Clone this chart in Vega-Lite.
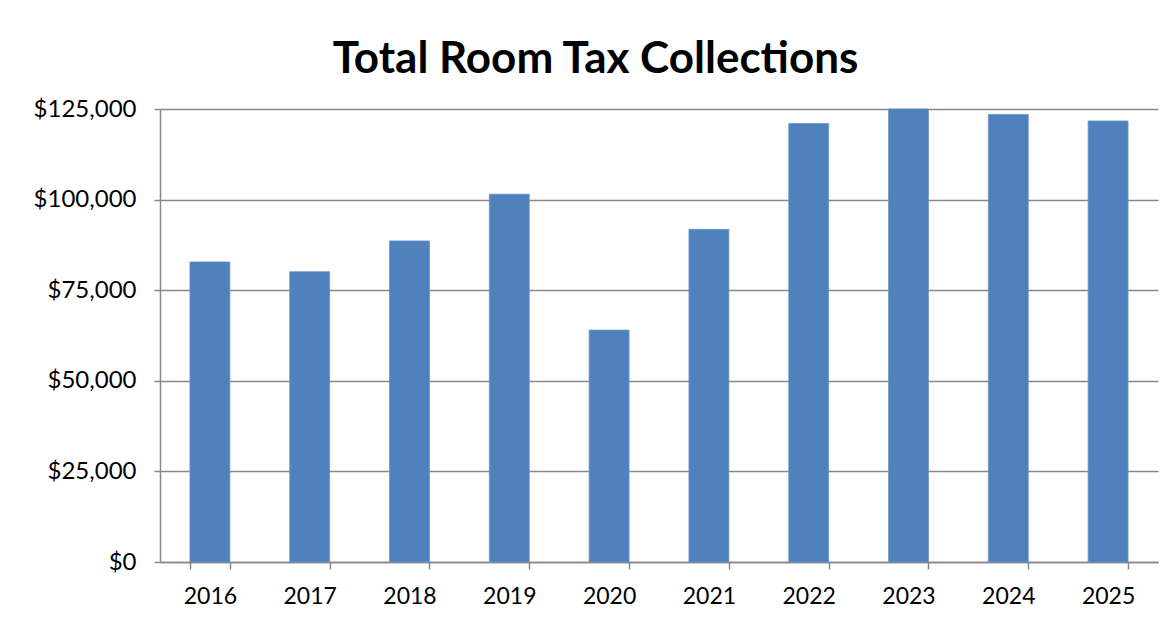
{
  "$schema": "https://vega.github.io/schema/vega-lite/v6.json",
  "autosize": "none",
  "width": 998,
  "height": 453,
  "padding": {"left": 160, "top": 109, "right": 18, "bottom": 68},
  "background": "white",
  "title": {
    "text": "Total Room Tax Collections",
    "font": "Lato",
    "fontSize": 44,
    "fontWeight": "bold",
    "color": "#000000",
    "anchor": "middle",
    "frame": "bounds",
    "offset": 15
  },
  "data": {
    "values": [
      {"year": "2016", "amount": 82800},
      {"year": "2017", "amount": 80100},
      {"year": "2018", "amount": 88600},
      {"year": "2019", "amount": 101500},
      {"year": "2020", "amount": 64000},
      {"year": "2021", "amount": 91800},
      {"year": "2022", "amount": 121000},
      {"year": "2023", "amount": 125000},
      {"year": "2024", "amount": 123500},
      {"year": "2025", "amount": 121700}
    ]
  },
  "mark": {"type": "bar", "color": "#4F81BD", "stroke": "#6A95C8", "strokeWidth": 0.8},
  "encoding": {
    "x": {
      "field": "year",
      "type": "ordinal",
      "scale": {"paddingInner": 0.6, "paddingOuter": 0.3},
      "axis": {
        "title": null,
        "labelAngle": 0,
        "labelFont": "Lato",
        "labelFontSize": 23,
        "labelColor": "#000000",
        "labelPadding": 16,
        "domainColor": "#888888",
        "domainWidth": 1.5,
        "tickColor": "#888888",
        "tickWidth": 1.5,
        "tickSize": 7,
        "tickBand": "extent",
        "grid": false
      }
    },
    "y": {
      "field": "amount",
      "type": "quantitative",
      "scale": {"domain": [0, 125000], "nice": false},
      "axis": {
        "title": null,
        "values": [0, 25000, 50000, 75000, 100000, 125000],
        "format": "$,.0f",
        "labelFont": "Lato",
        "labelFontSize": 24,
        "labelColor": "#000000",
        "labelPadding": 18,
        "domainColor": "#888888",
        "domainWidth": 1.5,
        "tickColor": "#888888",
        "tickWidth": 1.5,
        "tickSize": 6,
        "grid": true,
        "gridColor": "#888888",
        "gridWidth": 1.5
      }
    }
  },
  "config": {"view": {"stroke": null}}
}
